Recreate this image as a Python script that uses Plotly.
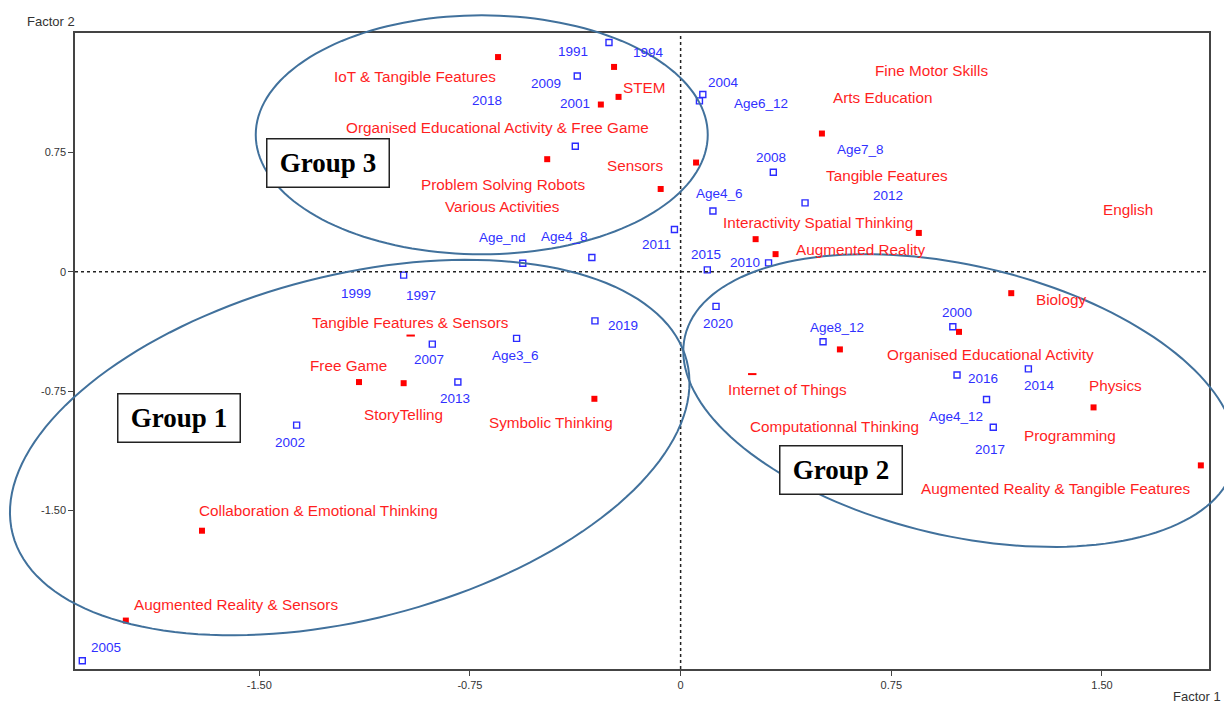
import math
import plotly.graph_objects as go

# ---------------- data ----------------
# red filled markers (modalities of the "content" variables)
red_x = [-0.650, -0.237, -0.221, -0.284, -0.475, 0.055, -0.071, 0.503, 0.848, 0.267,
         0.338, 1.177, 0.991, 0.567, 1.470, 1.852, -0.961, 0.255, -1.145, -0.986,
         -0.307, -1.704, -1.975]
red_y = [1.347, 1.285, 1.097, 1.049, 0.706, 0.685, 0.519, 0.867, 0.243, 0.204,
         0.110, -0.135, -0.378, -0.488, -0.852, -1.216, -0.401, -0.643, -0.693, -0.700,
         -0.798, -1.626, -2.190]
red_hidden = [False] * 16 + [True, True] + [False] * 5   # markers partly covered by labels

# blue open markers (years / age groups)
blue_x = [-0.255, -0.368, 0.079, 0.067, -0.375, 0.330, 0.443, 0.115, -0.022, -0.316,
          -0.562, -0.986, 0.095, 0.313, 0.126, -0.305, -0.584, -0.884, -0.793, -1.367,
          -2.130, 0.507, 0.969, 0.984, 1.238, 1.089, 1.113]
blue_y = [1.438, 1.228, 1.112, 1.072, 0.787, 0.624, 0.432, 0.381, 0.265, 0.089,
          0.053, -0.022, 0.011, 0.055, -0.218, -0.309, -0.419, -0.455, -0.693, -0.963,
          -2.442, -0.440, -0.346, -0.649, -0.610, -0.802, -0.977]

# labels (text and its position in factor coordinates)
blue_labels = ["1991", "1994", "2009", "2018", "2001", "2004", "Age6_12", "2008", "Age7_8",
               "2012", "Age4_6", "2011", "Age_nd", "Age4_8", "2015", "2010", "1999", "1997",
               "2019", "2020", "2007", "Age3_6", "2013", "2002", "2005", "Age8_12", "2000",
               "2016", "2014", "Age4_12", "2017"]
blue_label_x = [-0.383, -0.116, -0.478, -0.690, -0.376, 0.151, 0.287, 0.323, 0.641,
                0.740, 0.139, -0.087, -0.633, -0.414, 0.091, 0.228, -1.157, -0.925,
                -0.206, 0.133, -0.895, -0.587, -0.802, -1.389, -2.045, 0.558, 0.985,
                1.076, 1.276, 0.981, 1.103]
blue_label_y = [1.385, 1.375, 1.181, 1.072, 1.053, 1.189, 1.055, 0.716, 0.769,
                0.480, 0.491, 0.173, 0.215, 0.218, 0.110, 0.058, -0.135, -0.152,
                -0.340, -0.323, -0.553, -0.526, -0.795, -1.070, -2.362, -0.353, -0.258,
                -0.670, -0.712, -0.907, -1.115]

red_labels = ["IoT & Tangible Features", "STEM", "Organised Educational Activity & Free Game",
              "Sensors", "Problem Solving Robots", "Various Activities", "Fine Motor Skills",
              "Arts Education", "Tangible Features", "Interactivity Spatial Thinking",
              "Augmented Reality", "English", "Biology", "Organised Educational Activity",
              "Physics", "Programming", "Augmented Reality & Tangible Features",
              "Internet of Things", "Computationnal Thinking", "Tangible Features & Sensors",
              "Free Game", "StoryTelling", "Symbolic Thinking",
              "Collaboration & Emotional Thinking", "Augmented Reality & Sensors"]
red_label_x = [-0.947, -0.128, -0.651, -0.164, -0.633, -0.633, 0.893, 0.720, 0.736, 0.488,
               0.641, 1.592, 1.355, 1.103, 1.549, 1.387, 1.338, 0.381, 0.548, -0.963,
               -1.184, -0.986, -0.460, -1.289, -1.583]
red_label_y = [1.226, 1.156, 0.908, 0.664, 0.547, 0.407, 1.264, 1.093, 0.601, 0.311,
               0.138, 0.390, -0.174, -0.518, -0.716, -1.030, -1.358, -0.737, -0.972, -0.317,
               -0.587, -0.896, -0.946, -1.501, -2.086]

# group boxes and their ellipses
group_names = ["Group 3", "Group 1", "Group 2"]
group_box_x = [-1.257, -1.786, 0.571]
group_box_y = [0.681, -0.917, -1.242]
ellipse_cx = [-0.708, -1.178, 0.993]
ellipse_cy = [0.859, -1.104, -0.809]
ellipse_a_px = [226, 348, 282]
ellipse_b_px = [119.5, 172, 135]
ellipse_tilt = [0.0, 14.4, -13.2]

tick_vals = [-1.50, -0.75, 0, 0.75, 1.50]
tick_text = ["-1.50", "-0.75", "0", "0.75", "1.50"]

# ---------------- figure ----------------
XMIN, XMAX = -2.156, 1.881
YMIN, YMAX = -2.494, 1.498
# the page keeps an 8 px top/left body margin, so the figure is 8 px smaller each way
W, H = 1216, 696
ML, MR, MT, MB = 67, 15, 25, 35
PW, PH = W - ML - MR, H - MT - MB

SANS = "Liberation Sans, Arial, sans-serif"
RED = "#ff0000"
RED_TXT = "#ff1f1f"
BLUE = "#2b2bff"
BLUE_TXT = "#3030ff"

fig = go.Figure()

fig.add_trace(go.Scatter(
    x=blue_x, y=blue_y, mode="markers", hoverinfo="skip",
    marker=dict(symbol="square-open", size=6, color=BLUE, line=dict(width=1.4, color=BLUE)),
    cliponaxis=False))

fig.add_trace(go.Scatter(
    x=red_x, y=red_y, mode="markers", hoverinfo="skip",
    marker=dict(symbol=["line-ew-open" if h else "square" for h in red_hidden],
                size=6, color=RED, line=dict(width=[2 if h else 0 for h in red_hidden], color=RED)),
    cliponaxis=False))

annotations = []
for t, x, y in zip(blue_labels, blue_label_x, blue_label_y):
    annotations.append(dict(x=x, y=y, xref="x", yref="y", text=t, showarrow=False,
                            xanchor="center", yanchor="middle",
                            font=dict(family=SANS, size=13.5, color=BLUE_TXT)))
for t, x, y in zip(red_labels, red_label_x, red_label_y):
    annotations.append(dict(x=x, y=y, xref="x", yref="y", text=t, showarrow=False,
                            xanchor="center", yanchor="middle",
                            font=dict(family=SANS, size=15.3, color=RED_TXT)))
for t, x, y in zip(group_names, group_box_x, group_box_y):
    annotations.append(dict(x=x, y=y, xref="x", yref="y", text="<b>%s</b>" % t, showarrow=False,
                            xanchor="center", yanchor="middle", width=121, height=47,
                            bgcolor="white", bordercolor="#222222", borderwidth=1.5, borderpad=0,
                            font=dict(family="Liberation Serif, Times New Roman, serif",
                                      size=27, color="black")))
# axis titles
annotations.append(dict(x=-0.0441, y=1.0, xref="paper", yref="paper", text="Factor 2",
                        showarrow=False, xanchor="left", yanchor="middle", yshift=12,
                        font=dict(family=SANS, size=13, color="#333333")))
annotations.append(dict(x=1.0, y=0.0, xref="paper", yref="paper", text="Factor 1",
                        showarrow=False, xanchor="center", yanchor="middle", yshift=-27, xshift=-12,
                        font=dict(family=SANS, size=13, color="#333333")))

shapes = []
# dotted zero lines
shapes.append(dict(type="line", xref="x", yref="paper", x0=0, x1=0, y0=0, y1=1,
                   line=dict(color="#222222", width=1.5, dash="dot")))
shapes.append(dict(type="line", xref="paper", yref="y", x0=0, x1=1, y0=0, y1=0,
                   line=dict(color="#222222", width=1.5, dash="dot")))

# ellipses (drawn in paper space so they may run past the frame, as in the reference)
def ellipse_path(cx, cy, a, b, tilt, n=160):
    pxc = (cx - XMIN) / (XMAX - XMIN) * PW
    pyc = (cy - YMIN) / (YMAX - YMIN) * PH
    th = math.radians(tilt)
    pts = []
    for i in range(n):
        t = 2 * math.pi * i / n
        u, v = a * math.cos(t), b * math.sin(t)
        dx = u * math.cos(th) - v * math.sin(th)
        dy = u * math.sin(th) + v * math.cos(th)
        pts.append(((pxc + dx) / PW, (pyc + dy) / PH))
    return "M " + " L ".join("%.5f,%.5f" % p for p in pts) + " Z"

for cx, cy, a, b, tl in zip(ellipse_cx, ellipse_cy, ellipse_a_px, ellipse_b_px, ellipse_tilt):
    shapes.append(dict(type="path", xref="paper", yref="paper", path=ellipse_path(cx, cy, a, b, tl),
                       line=dict(color="#41719c", width=2), layer="above"))

axis_common = dict(showgrid=False, zeroline=False, showline=True, linecolor="#444444",
                   linewidth=1.5, mirror=True, ticks="outside", ticklen=5, tickwidth=1.2,
                   tickcolor="#444444", tickvals=tick_vals, ticktext=tick_text,
                   tickfont=dict(family=SANS, size=11, color="#333333"))

fig.update_layout(
    width=W, height=H, margin=dict(l=ML, r=MR, t=MT, b=MB),
    plot_bgcolor="white", paper_bgcolor="white", showlegend=False,
    xaxis=dict(range=[XMIN, XMAX], **axis_common),
    yaxis=dict(range=[YMIN, YMAX], **axis_common),
    annotations=annotations, shapes=shapes)

# keep the top/left page margin but drop the bottom/right one so the page does not overflow
fig.write_html("out.html", post_script="document.body.style.margin='8px 0 0 8px';")
